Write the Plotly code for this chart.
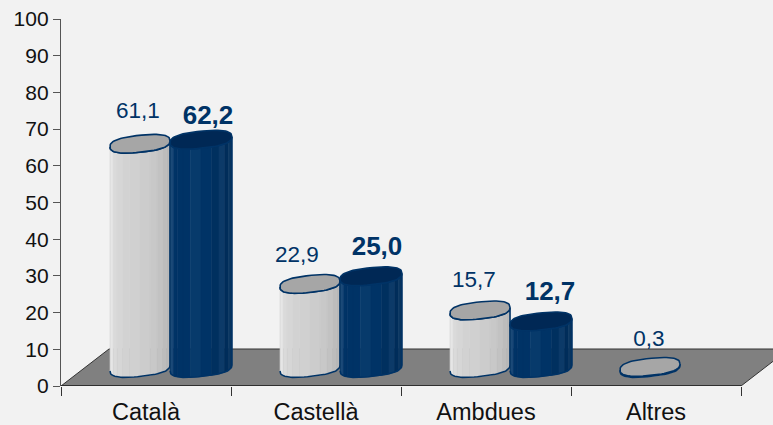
import numpy as np
import plotly.graph_objects as go

categories = ["Català", "Castellà", "Ambdues", "Altres"]
series_a = [61.1, 22.9, 15.7, 0.3]
series_b = [62.2, 25.0, 12.7, None]
labels_a = ["61,1", "22,9", "15,7", "0,3"]
labels_b = ["62,2", "25,0", "12,7", None]
y_ticks = list(range(0, 101, 10))

# Style / label nudges (not data)
PX_X = 170.0            # px per category
PX_Y = 3.67             # px per value unit
DX, DY = 48 / PX_X, 37 / PX_Y      # floor depth
BX, BY = 24 / PX_X, 18 / PX_Y      # bars sit mid-depth
HALF = 30 / PX_X
EB = 8.5 / PX_Y         # ellipse semi-minor
TILT = 3.0 / PX_Y
nudge_a = [(-2, 31), (-13, 28), (-6, 29), (-1, 27)]
nudge_b = [(8, 22), (7, 28), (10, 28)]
BLUE = "#003366"
shades_a = ["#d4d4d4", "#e6e6e6", "#dadada", "#d6d6d6", "#d2d2d2", "#d0d0d0", "#cccccc", "#c8c8c8", "#c2c2c2", "#bcbcbc", "#b8b8b8", "#bebebe"]
shades_b = ["#00305f", "#1d4a78", "#003366", "#003366", "#003366", "#073a6b", "#003366", "#00305f", "#0c3a68", "#002d5a", "#0c3863", "#002850"]

fig = go.Figure()


def poly(xs, ys, fill, line=None, lw=0.6):
    fig.add_trace(go.Scatter(
        x=xs, y=ys, mode="lines", fill="toself", fillcolor=fill,
        line=dict(color=line or fill, width=lw),
        hoverinfo="skip", showlegend=False))


def ell(cx, cy, t, half=HALF, eb=EB):
    c, s = np.cos(t), np.sin(t)
    p = 0.78  # squarish like the source rendering
    ex = np.sign(c) * np.abs(c) ** p
    ey = np.sign(s) * np.abs(s) ** p
    return cx + half * ex, cy + eb * ey + TILT * ex


def cylinder(cx, value, shades, top, wid=1.0):
    half = HALF * wid
    y0 = BY
    y1 = BY + value
    n = len(shades)
    edges = np.linspace(np.pi, 2 * np.pi, n + 1)
    for i in range(n):
        t = np.linspace(edges[i], edges[i + 1], 4)
        xb, yb = ell(cx, y0, t, half)
        xt, yt = ell(cx, y1, t[::-1], half)
        poly(np.r_[xb, xt, xb[0]], np.r_[yb, yt, yb[0]], shades[i])
    t = np.linspace(np.pi, 2 * np.pi, 40)
    xb, yb = ell(cx, y0, t, half)
    xt, yt = ell(cx, y1, t[::-1], half)
    fig.add_trace(go.Scatter(x=np.r_[xb, xt], y=np.r_[yb, yt], mode="lines",
                             line=dict(color=BLUE, width=1.6), hoverinfo="skip", showlegend=False))
    t = np.linspace(0, 2 * np.pi, 70)
    xt, yt = ell(cx, y1, t, half)
    poly(xt, yt, top, BLUE, 1.6)


# floor
poly([0, 4, 4 + DX, DX, 0], [0, 0, DY, DY, 0], "#808080", "#333333", 1)
# x baseline
fig.add_trace(go.Scatter(x=[0, 4], y=[0, 0], mode="lines", line=dict(color="#222222", width=1.4),
                         hoverinfo="skip", showlegend=False, cliponaxis=False))

for i, cat in enumerate(categories):
    c = i + 0.5 + BX
    cylinder(c - HALF, series_a[i], shades_a, "#a6a6a6")
    if series_b[i] is not None:
        cylinder(c + HALF + 1 / PX_X, series_b[i], shades_b, "#002855", wid=1.03)

for i in range(len(categories)):
    c = i + 0.5 + BX
    fig.add_trace(go.Scatter(
        x=[c - HALF + nudge_a[i][0] / PX_X],
        y=[BY + series_a[i] + nudge_a[i][1] / PX_Y],
        mode="text", text=[labels_a[i]],
        textfont=dict(family="Liberation Sans", size=22.5, color=BLUE),
        hoverinfo="skip", showlegend=False))
    if series_b[i] is not None:
        fig.add_trace(go.Scatter(
            x=[c + HALF + nudge_b[i][0] / PX_X],
            y=[BY + series_b[i] + nudge_b[i][1] / PX_Y],
            mode="text", text=[labels_b[i]],
            textfont=dict(family="Liberation Sans", size=26, color=BLUE, weight="bold"),
            hoverinfo="skip", showlegend=False))

fig.update_layout(
    width=773, height=425, autosize=False,
    margin=dict(l=61, r=0, t=19, b=39, pad=0),
    paper_bgcolor="#f2f2f2", plot_bgcolor="#f2f2f2",
    font=dict(family="Liberation Sans", color="#111111"),
    showlegend=False,
    xaxis=dict(
        range=[0, 712 / PX_X], showgrid=False, zeroline=False, showline=False, automargin=False,
        tickmode="array", tickvals=[i + 0.5 for i in range(4)], ticktext=categories,
        ticks="", ticklen=0, ticklabelstandoff=9, tickfont=dict(size=23.5, color="#111111"),
        minor=dict(tickmode="linear", tick0=0, dtick=1, ticks="outside", ticklen=9, tickwidth=1, tickcolor="#333333"),
    ),
    yaxis=dict(
        range=[0, 100], showgrid=False, zeroline=False, showline=True, linecolor="#555555", linewidth=1.4,
        automargin=False,
        tickmode="array", tickvals=y_ticks, ticks="outside", ticklen=7, tickwidth=1.2, tickcolor="#555555",
        tickfont=dict(size=21, color="#111111"), ticklabelstandoff=0,
    ),
)

fig.write_html("out.html", config={"displayModeBar": False}, post_script="document.body.style.margin='0';")
